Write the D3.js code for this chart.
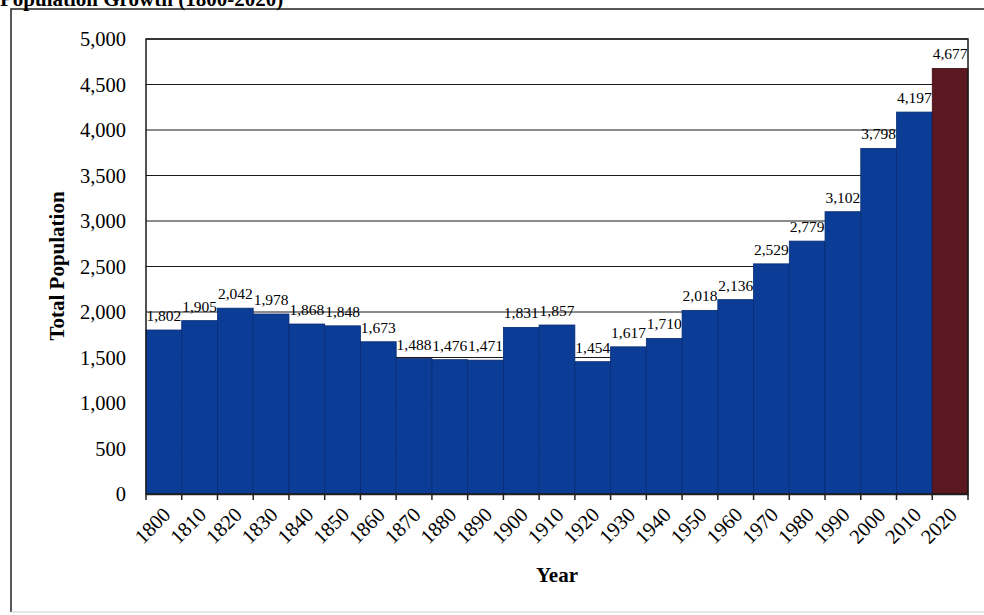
<!DOCTYPE html>
<html>
<head>
<meta charset="utf-8">
<script src="https://cdn.jsdelivr.net/npm/d3@7"></script>
<style>
  html, body { margin: 0; padding: 0; background: #fff; overflow: hidden; }
  svg { display: block; font-family: "Liberation Serif", "DejaVu Serif", serif; }
</style>
</head>
<body>
<svg id="chart" width="984" height="615"></svg>
<script>
var years = ["1800","1810","1820","1830","1840","1850","1860","1870","1880","1890","1900",
  "1910","1920","1930","1940","1950","1960","1970","1980","1990","2000","2010","2020"]
var population = [1802,1905,2042,1978,1868,1848,1673,1488,1476,1471,1831,
  1857,1454,1617,1710,2018,2136,2529,2779,3102,3798,4197,4677]
var yTicks = [0,500,1000,1500,2000,2500,3000,3500,4000,4500,5000]
var highlightYear = "2020"

var width = 984
var height = 615
var margin = {top: 39, right: 16, bottom: 121, left: 146}

var svg = d3.select("#chart")

// outer frame (right side runs off the page)
svg.append("path")
  .attr("d", "M984,9 H11 V612")
  .attr("fill", "none").attr("stroke", "#222").attr("stroke-width", 1.5)
svg.append("line")
  .attr("x1", 11).attr("x2", 984).attr("y1", 612).attr("y2", 612)
  .attr("stroke", "#ccc").attr("stroke-width", 1)

svg.append("text")
  .attr("x", 0).attr("y", 6)
  .attr("font-size", 21).attr("font-weight", "bold")
  .text("Population Growth (1800-2020)")

var x = d3.scaleBand()
  .domain(years)
  .range([margin.left, width - margin.right])
  .paddingInner(0).paddingOuter(0)

var y = d3.scaleLinear()
  .domain([0, 5000])
  .range([height - margin.bottom, margin.top])

// gridlines
svg.append("g")
  .selectAll("line")
  .data(yTicks.slice(1))
  .join("line")
  .attr("x1", margin.left).attr("x2", width - margin.right)
  .attr("y1", d => y(d)).attr("y2", d => y(d))
  .attr("stroke", "#1a1a1a").attr("stroke-width", 1.2)

var data = years.map((d, i) => ({year: d, value: population[i]}))

svg.append("g")
  .selectAll("rect")
  .data(data)
  .join("rect")
  .attr("x", d => x(d.year))
  .attr("y", d => y(d.value))
  .attr("width", x.bandwidth())
  .attr("height", d => y(0) - y(d.value))
  .attr("fill", d => d.year === highlightYear ? "#5c1820" : "#0b3c96")
  .attr("stroke", d => d.year === highlightYear ? "#3e0d14" : "#082c72")
  .attr("stroke-width", 0.8)

// value labels
svg.append("g")
  .selectAll("text")
  .data(data)
  .join("text")
  .attr("x", d => x(d.year) + x.bandwidth() / 2)
  .attr("y", d => y(d.value) - 9)
  .attr("text-anchor", "middle")
  .attr("font-size", 15.5)
  .attr("fill", "#000")
  .text(d => d3.format(",")(d.value))

// plot border
svg.append("rect")
  .attr("x", margin.left).attr("y", margin.top)
  .attr("width", width - margin.right - margin.left)
  .attr("height", height - margin.bottom - margin.top)
  .attr("fill", "none").attr("stroke", "#1a1a1a").attr("stroke-width", 1.5)

// y axis
var yAxis = svg.append("g")
  .attr("transform", `translate(${margin.left},0)`)
  .call(d3.axisLeft(y).tickValues(yTicks).tickFormat(d3.format(",")).tickSize(0).tickPadding(20))
yAxis.select(".domain").remove()
yAxis.selectAll("text")
  .attr("font-family", "Liberation Serif, serif")
  .attr("font-size", 20.5).attr("fill", "#000")

// x axis: tick marks on category boundaries
var bounds = years.map(d => x(d)).concat([x(years[years.length - 1]) + x.bandwidth()])
svg.append("g")
  .selectAll("line")
  .data(bounds)
  .join("line")
  .attr("x1", d => d).attr("x2", d => d)
  .attr("y1", y(0)).attr("y2", y(0) + 6)
  .attr("stroke", "#222").attr("stroke-width", 1.5)

var xAxis = svg.append("g")
  .attr("transform", `translate(0,${y(0)})`)
  .call(d3.axisBottom(x).tickSize(0).tickPadding(0))
xAxis.select(".domain").attr("stroke", "#222").attr("stroke-width", 1.5)
xAxis.selectAll("text")
  .attr("font-family", "Liberation Serif, serif")
  .attr("font-size", 20.5).attr("fill", "#000")
  .attr("text-anchor", "end")
  .attr("dy", 0)
  .attr("transform", "translate(8,22) rotate(-45)")

svg.append("text")
  .attr("x", (margin.left + width - margin.right) / 2)
  .attr("y", 582)
  .attr("text-anchor", "middle")
  .attr("font-size", 21).attr("font-weight", "bold")
  .text("Year")

svg.append("text")
  .attr("transform", `translate(64,266) rotate(-90)`)
  .attr("text-anchor", "middle")
  .attr("font-size", 21).attr("font-weight", "bold")
  .text("Total Population")
</script>
</body>
</html>
